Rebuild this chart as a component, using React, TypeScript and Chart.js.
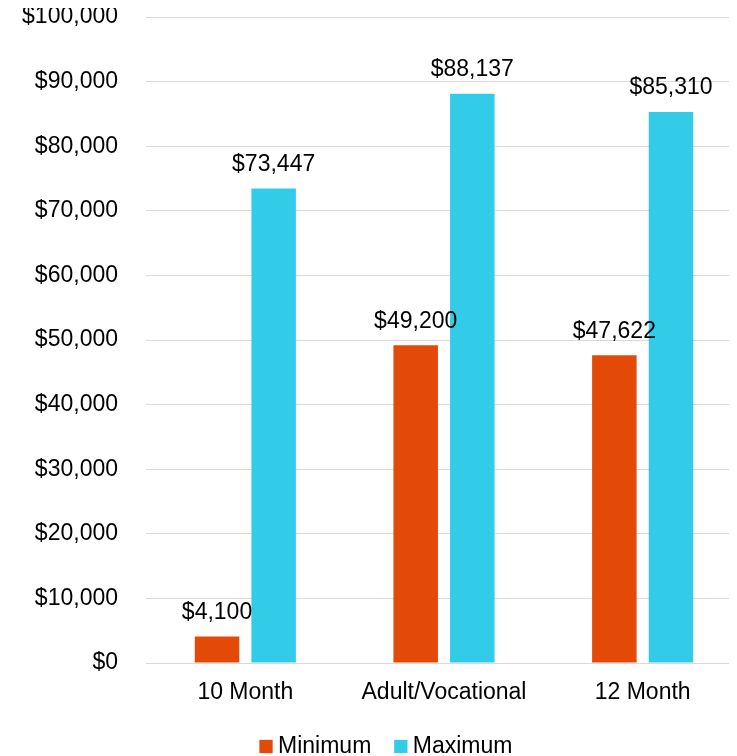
import React, { useEffect, useRef } from 'react';
import { Chart, registerables } from 'chart.js';

Chart.register(...registerables);

const categories = ['10 Month', 'Adult/Vocational', '12 Month'];
const minimumValues = [4100, 49200, 47622];
const maximumValues = [73447, 88137, 85310];
const seriesNames = ['Minimum', 'Maximum'];
const yMin = 0;
const yMax = 100000;
const yStep = 10000;

const FONT = '"Liberation Sans", Arial, sans-serif';
const FONT_SIZE = 23;

const fmt = (v: number) => '$' + v.toLocaleString('en-US');

const dataLabelPlugin = {
  id: 'dataLabels',
  afterDatasetsDraw(chart: any) {
    const ctx = chart.ctx;
    ctx.save();
    ctx.font = `${FONT_SIZE}px ${FONT}`;
    ctx.fillStyle = '#000';
    ctx.textAlign = 'center';
    ctx.textBaseline = 'middle';
    chart.data.datasets.forEach((ds: any, i: number) => {
      const meta = chart.getDatasetMeta(i);
      meta.data.forEach((el: any, j: number) => {
        ctx.fillText(fmt(ds.data[j]), el.x, el.y - 24);
      });
    });
    ctx.restore();
  },
};

const legendShiftPlugin = {
  id: 'legendShift',
  afterLayout(chart: any) {
    if (chart.legend) {
      chart.legend.left += 28;
    }
  },
};

export default function App() {
  const ref = useRef<HTMLCanvasElement | null>(null);
  useEffect(() => {
    document.body.style.overflow = 'hidden';
    if (!ref.current) return;
    const chart = new Chart(ref.current, {
      type: 'bar',
      data: {
        labels: categories,
        datasets: [
          {
            label: seriesNames[0],
            data: minimumValues,
            backgroundColor: '#E34A07',
            borderWidth: 0,
            barPercentage: 0.786,
            categoryPercentage: 0.57,
          },
          {
            label: seriesNames[1],
            data: maximumValues,
            backgroundColor: '#33CCE8',
            borderWidth: 0,
            barPercentage: 0.786,
            categoryPercentage: 0.57,
          },
        ],
      },
      options: {
        animation: false,
        responsive: false,
        devicePixelRatio: 1,
        layout: { padding: 0 },
        plugins: {
          tooltip: { enabled: false },
          legend: {
            position: 'bottom',
            labels: {
              usePointStyle: true,
              pointStyle: 'rect',
              boxWidth: 1,
              boxHeight: 13.3,
              padding: 29,
              color: '#000',
              font: { family: FONT, size: FONT_SIZE },
            },
          },
        },
        scales: {
          x: {
            grid: { display: false },
            border: { display: false },
            ticks: {
              color: '#000',
              padding: 8,
              font: { family: FONT, size: FONT_SIZE },
            },
            afterFit: (scale: any) => {
              scale.height = 43;
            },
          },
          y: {
            min: yMin,
            max: yMax,
            border: { display: false },
            grid: { color: '#D9D9D9', lineWidth: 1, drawTicks: false },
            ticks: {
              stepSize: yStep,
              color: '#000',
              padding: 28,
              font: { family: FONT, size: FONT_SIZE },
              callback: (v: any) => fmt(Number(v)),
            },
            afterFit: (scale: any) => {
              scale.width = 138;
              scale.paddingTop = 17;
              scale.paddingBottom = 0;
            },
          },
        },
      },
      plugins: [dataLabelPlugin, legendShiftPlugin],
    } as any);
    return () => chart.destroy();
  }, []);
  return (
    <div style={{ position: 'relative', top: -8, width: 734, height: 768 }}>
      <canvas ref={ref} width={734} height={768} style={{ display: 'block' }} />
    </div>
  );
}
